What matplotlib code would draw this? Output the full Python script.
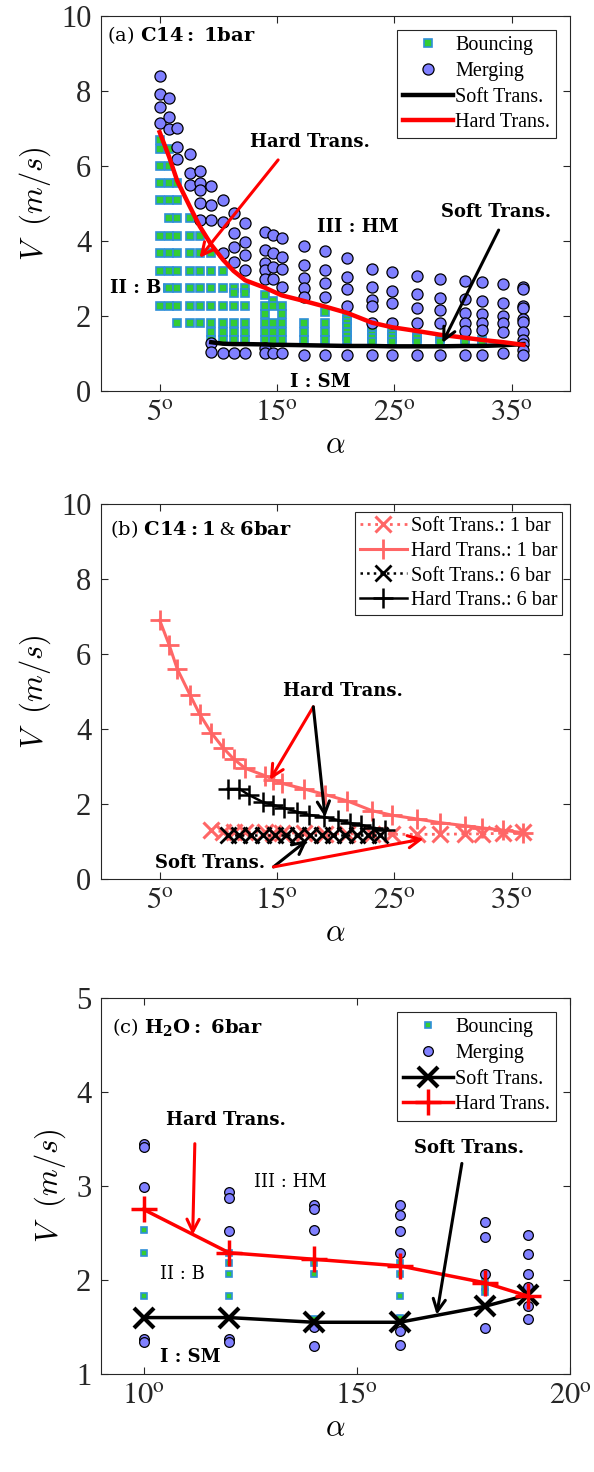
import numpy as np
import matplotlib
matplotlib.use("Agg")
import matplotlib.pyplot as plt

plt.rcParams["font.family"] = ["Liberation Serif", "DejaVu Serif"]
plt.rcParams["mathtext.fontset"] = "stix"

# ---------------- panel (a): C14, 1 bar ----------------
alpha_a = [5.0, 5.8, 6.5, 7.6, 8.4, 9.4, 10.4, 11.3, 12.3, 14.0, 14.7, 15.4,
           17.3, 19.1, 21.0, 23.1, 24.8, 26.9, 28.9, 31.0, 32.5, 34.3, 36.0]

bounce_a = [
    [6.69, 6.45, 6.0, 5.55, 5.09, 4.13, 3.68, 3.2, 2.75, 2.27],
    [6.45, 6.0, 5.55, 5.09, 4.6, 4.13, 3.68, 3.2, 2.75, 2.27],
    [5.55, 5.09, 4.6, 4.13, 3.68, 3.2, 2.75, 2.27, 1.81],
    [4.6, 4.13, 3.68, 3.2, 2.75, 2.27, 1.81],
    [4.13, 3.68, 3.2, 2.75, 2.27, 1.81],
    [3.68, 3.2, 2.75, 2.27, 1.81, 1.57, 1.36],
    [3.2, 2.75, 2.27, 1.81, 1.57, 1.36],
    [2.75, 2.6, 2.27, 1.81, 1.57, 1.36],
    [2.75, 2.6, 2.27, 1.81, 1.57, 1.36],
    [2.55, 2.27, 2.05, 1.81, 1.57, 1.36],
    [2.4, 2.27, 1.81, 1.57, 1.36],
    [2.27, 2.05, 1.81, 1.57, 1.36],
    [1.81, 1.57, 1.36],
    [2.1, 1.81, 1.57, 1.36],
    [2.0, 1.9, 1.81, 1.7, 1.57, 1.47, 1.36],
    [1.7, 1.6, 1.5, 1.4, 1.3],
    [1.6, 1.5, 1.4, 1.3],
    [1.5, 1.4, 1.3],
    [1.4, 1.3],
    [1.5, 1.4, 1.3],
    [1.35, 1.3],
    [],
    [],
]

merge_a = [
    [8.4, 7.92, 7.57, 7.15],
    [7.8, 7.31, 6.98],
    [7.0, 6.5, 6.18],
    [6.32, 5.81, 5.49],
    [5.87, 5.54, 5.36, 5.01, 4.56],
    [5.47, 4.96, 4.56, 1.28, 1.04],
    [5.09, 4.51, 3.68, 1.01],
    [4.75, 4.21, 3.84, 3.44, 1.01],
    [4.48, 3.97, 3.63, 3.23, 1.01],
    [4.24, 3.76, 3.41, 3.23, 2.99, 1.15, 1.01],
    [4.16, 3.68, 3.31, 2.99, 1.01],
    [4.08, 3.57, 3.25, 2.77, 1.01],
    [3.87, 3.36, 3.01, 2.75, 2.51, 0.96],
    [3.73, 3.23, 2.88, 2.51, 0.96],
    [3.55, 3.04, 2.72, 2.27, 0.96],
    [3.25, 2.77, 2.43, 2.27, 1.81, 0.96],
    [3.17, 2.67, 2.35, 1.81, 0.96],
    [3.07, 2.59, 2.21, 1.81, 0.96],
    [2.99, 2.48, 2.16, 1.81, 0.96],
    [2.93, 2.45, 2.08, 1.81, 1.6, 0.96],
    [2.91, 2.4, 2.05, 1.81, 1.63, 0.96],
    [2.85, 2.35, 2.0, 1.81, 1.57, 1.0],
    [2.77, 2.72, 2.27, 2.21, 1.92, 1.84, 1.57, 1.36, 1.25, 1.1, 0.96],
]

hard_a = [6.9, 6.25, 5.6, 4.9, 4.4, 3.9, 3.5, 3.2, 2.95, 2.75, 2.65, 2.55,
          2.4, 2.25, 2.08, 1.82, 1.7, 1.6, 1.5, 1.42, 1.36, 1.3, 1.23]

soft_alpha_a = [9.4, 10.4, 11.3, 12.3, 14.0, 14.7, 15.4, 17.3, 19.1, 21.0, 23.1,
                24.8, 26.9, 28.9, 31.0, 32.5, 34.3, 36.0]
soft_a = [1.3, 1.26, 1.25, 1.25, 1.24, 1.23, 1.23, 1.22, 1.21, 1.2, 1.2,
          1.19, 1.19, 1.19, 1.2, 1.2, 1.22, 1.25]

# ---------------- panel (b): C14, 1 & 6 bar ----------------
alpha_6bar_hard = [10.8, 11.8, 12.6, 13.8, 14.7, 15.6, 16.7, 17.7, 19.0, 20.2,
                   21.2, 22.2, 23.2, 24.2]
hard_6bar = [2.4, 2.4, 2.24, 2.05, 1.97, 1.89, 1.79, 1.71, 1.65, 1.57,
             1.49, 1.44, 1.36, 1.31]
alpha_6bar_soft = [10.8, 11.8, 12.8, 13.8, 14.8, 15.8, 16.8, 17.8, 18.8, 19.8,
                   20.8, 21.8, 22.8, 23.8]
soft_6bar = [1.18, 1.18, 1.18, 1.18, 1.18, 1.18, 1.18, 1.18, 1.18, 1.18,
             1.18, 1.18, 1.18, 1.18]

# ---------------- panel (c): H2O, 6 bar ----------------
alpha_c = [10, 12, 14, 16, 18, 19]
bounce_c = [
    [2.53, 2.29, 1.83],
    [2.29, 2.18, 2.06, 1.83],
    [2.18, 2.06, 1.58],
    [2.18, 2.06, 1.83, 1.6],
    [2.0, 1.93, 1.87],
    [],
]
merge_c = [
    [3.45, 3.41, 2.99, 1.37, 1.34],
    [2.94, 2.87, 2.52, 1.37, 1.34],
    [2.8, 2.76, 2.53, 1.5, 1.3],
    [2.8, 2.69, 2.52, 2.29, 1.46, 1.31],
    [2.62, 2.46, 2.06, 1.49],
    [2.48, 2.28, 2.06, 1.92, 1.72, 1.58],
]
hard_c = [2.75, 2.29, 2.22, 2.15, 1.97, 1.83]
soft_c = [1.6, 1.6, 1.55, 1.55, 1.72, 1.84]

merge_face = "#8080FF"
bounce_face = "#33CC33"
bounce_edge = "#2F8FD8"
light_red = "#FF6666"
axcol = "#262626"


def flat(xs, lists):
    x, y = [], []
    for a, vs in zip(xs, lists):
        x += [a] * len(vs)
        y += list(vs)
    return x, y


def style(ax):
    ax.tick_params(direction="in", top=True, right=True, length=5,
                   labelsize=22, colors=axcol, width=0.8)
    ax.tick_params(axis="y", pad=7)
    ax.tick_params(axis="x", pad=6)
    for s in ax.spines.values():
        s.set_color(axcol)
        s.set_linewidth(0.8)


def note(ax, x, y, s, weight="bold", **kw):
    ax.text(x, y, s, fontsize=13, ha="center", va="center", family="DejaVu Serif",
            fontweight=weight, zorder=6, **kw)


def arrow(ax, tail, head, color):
    ax.annotate("", xy=head, xytext=tail,
                arrowprops=dict(arrowstyle="->", color=color, lw=2.2,
                                mutation_scale=22, shrinkA=0, shrinkB=0),
                zorder=6)


def labels(ax):
    ax.set_xlabel(r"$\alpha$", fontsize=22, math_fontfamily="cm", labelpad=2)
    ax.set_ylabel(r"$V\ \ (m/s)$", fontsize=22, math_fontfamily="cm", labelpad=6)


def title(ax, x, y, s):
    ax.text(x, y, s, transform=ax.transAxes, fontsize=14, ha="left", va="center",
            math_fontfamily="dejavuserif")


def legend(ax, **kw):
    leg = ax.legend(loc="upper right", fontsize=14.5, fancybox=False,
                    edgecolor=axcol, framealpha=1, **kw)
    leg.get_frame().set_linewidth(0.8)


fig = plt.figure(figsize=(5.94, 14.72), dpi=100)
W = 0.790
L = 0.170
ax_a = fig.add_axes([L, 0.7344, W, 0.2548])
ax_b = fig.add_axes([L, 0.4029, W, 0.2548])
ax_c = fig.add_axes([L, 0.0666, W, 0.2554])

deg_ticks = [5, 15, 25, 35]
deg_labels = ["$5^{\\mathrm{o}}$", "$15^{\\mathrm{o}}$", "$25^{\\mathrm{o}}$", "$35^{\\mathrm{o}}$"]

# ---- (a)
ax = ax_a
bx, by = flat(alpha_a, bounce_a)
mx, my = flat(alpha_a, merge_a)
ax.plot(bx, by, "s", ms=5.5, mfc=bounce_face, mec=bounce_edge, mew=1.2,
        label="Bouncing", zorder=2)
ax.plot(mx, my, "o", ms=8, mfc=merge_face, mec="k", mew=0.9,
        label="Merging", zorder=3)
ax.plot(soft_alpha_a, soft_a, "-", color="k", lw=3.2, label="Soft Trans.", zorder=4)
ax.plot(alpha_a, hard_a, "-", color="red", lw=3.2, label="Hard Trans.", zorder=5)
ax.set_xlim(0, 40)
ax.set_ylim(0, 10)
ax.set_xticks(deg_ticks)
ax.set_xticklabels(deg_labels)
ax.set_yticks([0, 2, 4, 6, 8, 10])
style(ax)
labels(ax)
title(ax, 0.013, 0.95, r"$(\mathrm{a})\ \mathbf{C14:\ 1bar}$")
legend(ax, handlelength=2.5, labelspacing=0.33, borderpad=0.3, handletextpad=0.1,
       borderaxespad=0.7)
note(ax, 17.8, 6.64, "Hard Trans.")
arrow(ax, (15.1, 6.16), (8.4, 3.55), "red")
note(ax, 33.7, 4.77, "Soft Trans.")
arrow(ax, (33.9, 4.29), (29.1, 1.28), "k")
note(ax, 21.9, 4.37, "III : HM")
note(ax, 3.0, 2.75, "II : B", bbox=dict(facecolor="white", edgecolor="none", pad=1))
note(ax, 18.7, 0.24, "I : SM")

# ---- (b)
ax = ax_b
ax.plot(soft_alpha_a, soft_a, ":", color=light_red, lw=2, marker="x", ms=11, mew=2.2,
        label="Soft Trans.: 1 bar", zorder=3)
ax.plot(alpha_a, hard_a, "-", color=light_red, lw=2.2, marker="+", ms=14, mew=2,
        label="Hard Trans.: 1 bar", zorder=3)
ax.plot(alpha_6bar_soft, soft_6bar, ":", color="k", lw=1.8, marker="x", ms=11, mew=2,
        label="Soft Trans.: 6 bar", zorder=4)
ax.plot(alpha_6bar_hard, hard_6bar, "-", color="k", lw=1.8, marker="+", ms=14, mew=1.8,
        label="Hard Trans.: 6 bar", zorder=4)
ax.set_xlim(0, 40)
ax.set_ylim(0, 10)
ax.set_xticks(deg_ticks)
ax.set_xticklabels(deg_labels)
ax.set_yticks([0, 2, 4, 6, 8, 10])
style(ax)
labels(ax)
title(ax, 0.019, 0.933, r"$(\mathrm{b})\ \mathbf{C14:1}$ & $\mathbf{6bar}$")
legend(ax, handlelength=2.3, labelspacing=0.28, borderpad=0.25, handletextpad=0.2,
       borderaxespad=0.4)
note(ax, 20.6, 5.0, "Hard Trans.")
arrow(ax, (18.1, 4.59), (14.4, 2.64), "red")
arrow(ax, (18.1, 4.59), (19.1, 1.65), "k")
note(ax, 9.3, 0.43, "Soft Trans.")
arrow(ax, (14.7, 0.32), (17.6, 1.04), "k")
arrow(ax, (14.7, 0.32), (27.5, 1.07), "red")

# ---- (c)
ax = ax_c
bx, by = flat(alpha_c, bounce_c)
mx, my = flat(alpha_c, merge_c)
ax.plot(bx, by, "s", ms=5, mfc=bounce_face, mec=bounce_edge, mew=1.2,
        label="Bouncing", zorder=2)
ax.plot(mx, my, "o", ms=7, mfc=merge_face, mec="k", mew=0.9,
        label="Merging", zorder=3)
ax.plot(alpha_c, soft_c, "-", color="k", lw=2.5, marker="x", ms=15, mew=3,
        label="Soft Trans.", zorder=4)
ax.plot(alpha_c, hard_c, "-", color="red", lw=2.5, marker="+", ms=19, mew=2.5,
        label="Hard Trans.", zorder=5)
ax.set_xlim(9, 20)
ax.set_ylim(1, 5)
ax.set_xticks([10, 15, 20])
ax.set_xticklabels(["$10^{\\mathrm{o}}$", "$15^{\\mathrm{o}}$", "$20^{\\mathrm{o}}$"])
ax.set_yticks([1, 2, 3, 4, 5])
style(ax)
labels(ax)
title(ax, 0.023, 0.923, r"$(\mathrm{c})\ \mathbf{H_2O:\ 6bar}$")
legend(ax, handlelength=2.5, labelspacing=0.33, borderpad=0.3, handletextpad=0.1,
       borderaxespad=0.7)
note(ax, 11.92, 3.7, "Hard Trans.")
arrow(ax, (11.2, 3.45), (11.15, 2.48), "red")
note(ax, 17.62, 3.4, "Soft Trans.")
arrow(ax, (17.46, 3.24), (16.87, 1.63), "k")
note(ax, 13.44, 3.04, "III : HM", weight="normal")
note(ax, 10.92, 2.06, "II : B", weight="normal")
note(ax, 11.1, 1.18, "I : SM")

fig.savefig("out.png", dpi=100)
